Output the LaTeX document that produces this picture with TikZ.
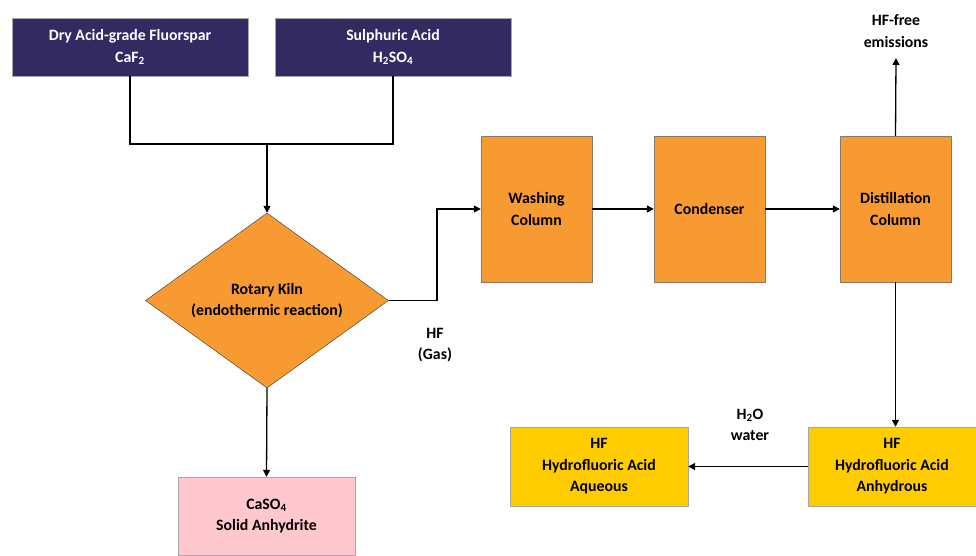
\documentclass[tikz,border=0pt]{standalone}
\usepackage{fontspec}
\setmainfont{Carlito}
\usetikzlibrary{shapes.geometric,arrows.meta}
\definecolor{navy}{HTML}{332A62}
\definecolor{orng}{HTML}{F79A32}
\definecolor{yell}{HTML}{FFCC00}
\definecolor{pink}{HTML}{FFC7CE}
\definecolor{edge}{HTML}{8A7A6A}
\tikzset{
  txt/.style={font=\fontsize{15.8}{21.5}\selectfont\bfseries, align=center, text=black},
  inbox/.style={txt, draw=gray!70, fill=navy, text=white, minimum width=236pt, minimum height=58pt, inner sep=0pt},
  unit/.style={txt, draw=edge, fill=orng, minimum width=111pt, minimum height=146pt, inner sep=0pt},
  prod/.style={txt, draw=gray!70, fill=yell, minimum width=178pt, minimum height=79pt, inner sep=0pt},
  waste/.style={txt, draw=gray!70, fill=pink, minimum width=177pt, minimum height=78pt, inner sep=0pt},
  kiln/.style={diamond, draw=black!80, fill=orng, minimum width=243pt, minimum height=175pt, inner sep=0pt},
  lbl/.style={txt, inner sep=0pt},
  flow/.style={line width=1.3pt, draw=black},
  arr/.style={flow, -{Triangle[length=7pt,width=7pt]}},
}
\begin{document}
\begin{tikzpicture}[x=1pt,y=-1pt]
\useasboundingbox (0,0) rectangle (976,555);
\node[inbox] (fluor) at (130,47) {Dry Acid-grade Fluorspar\\CaF\textsubscript{2}};
\node[inbox] (sulph) at (393,47) {Sulphuric Acid\\H\textsubscript{2}SO\textsubscript{4}};
\node[kiln] (kiln) at (267,300.5) {};
\node[lbl] (kilntxt) at (kiln.center) {Rotary Kiln\\(endothermic reaction)};
\node[unit] (wash) at (536.5,209) {Washing\\Column};
\node[unit] (cond) at (709.5,209) {Condenser};
\node[unit] (dist) at (895.5,209) {Distillation\\Column};
\node[prod, minimum width=168pt] (anhy) at (892,466.5) {HF\\Hydrofluoric Acid\\Anhydrous};
\node[prod] (aqua) at (599,466.5) {HF\\Hydrofluoric Acid\\Aqueous};
\node[waste] (caso) at (266.5,516) {CaSO\textsubscript{4}\\Solid Anhydrite};
\node[lbl] (gas) at (435,345) {HF\\(Gas)};
\node[lbl] (emis) at (896,31) {HF-free\\emissions};
\node[lbl] (water) at (750,425) {H\textsubscript{2}O\\water};
\coordinate (join) at (267,144);
\coordinate (top) at (896,58);
\draw[flow] (fluor.south) |- (join) -| (sulph.south);
\draw[arr] (join) -- (kiln.north);
\draw[arr] (kiln.east) -- (437,300.5) |- (wash.west);
\draw[arr] (wash.east) -- (cond.west);
\draw[arr] (cond.east) -- (dist.west);
\draw[arr] (dist.north) -- (top);
\draw[arr] (dist.south) -- (dist.south |- anhy.north);
\draw[arr] (anhy.west) -- (aqua.east);
\draw[arr] (kiln.south) -- (caso.north);
\end{tikzpicture}
\end{document}
